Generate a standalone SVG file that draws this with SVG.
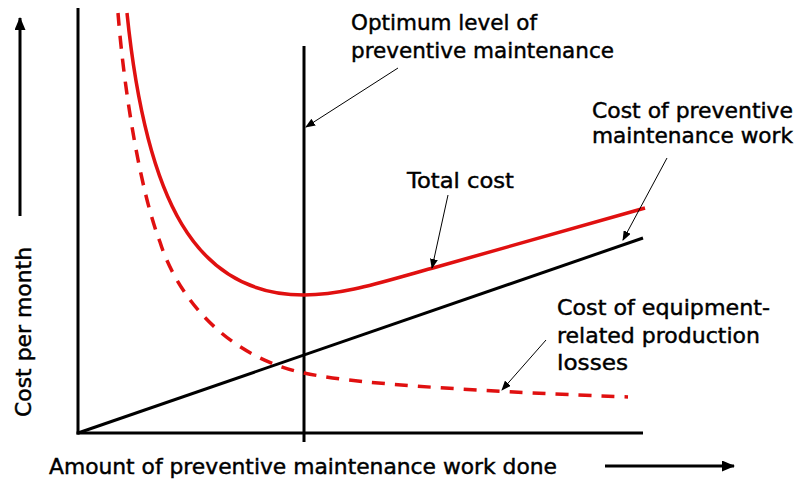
<svg xmlns="http://www.w3.org/2000/svg" width="798" height="480" viewBox="0 0 798 480">
<style>
text{font-family:"DejaVu Sans",Verdana,sans-serif;font-size:22px;fill:#000;stroke:#000;stroke-width:0.45}
.axis{stroke:#000;stroke-width:3;fill:none}
.red{stroke:#e01010;stroke-width:3.5;fill:none}
.dash{stroke-dasharray:13 10}
.lead{stroke:#000;stroke-width:1;fill:none;marker-end:url(#sa)}
</style>
<defs>
<marker id="sa" markerUnits="userSpaceOnUse" markerWidth="10" markerHeight="8" refX="9" refY="4" orient="auto">
<path d="M0,0 L10,4 L0,8 Z" fill="#000"/>
</marker>
<marker id="ba" markerUnits="userSpaceOnUse" markerWidth="13" markerHeight="11" refX="12" refY="5.5" orient="auto">
<path d="M0,0 L13,5.5 L0,11 Z" fill="#000"/>
</marker>
</defs>
<g id="axes">
<line class="axis" x1="78" y1="8" x2="78" y2="434.5"/>
<line class="axis" x1="76.5" y1="433" x2="643" y2="433"/>
<line class="axis" x1="20" y1="216" x2="20" y2="18" marker-end="url(#ba)"/>
<line class="axis" x1="605" y1="466" x2="734" y2="466" marker-end="url(#ba)"/>
</g>
<g id="optimum-line">
<line class="axis" x1="304" y1="46" x2="304" y2="442"/>
</g>
<g id="pm-cost-line">
<line class="axis" x1="78" y1="433" x2="643" y2="238"/>
</g>
<g id="total-cost-curve">
<path class="red" d="M127,13 C146,200 195,295 304,295 C345,295 385,281 433,268 L645,208"/>
</g>
<g id="losses-curve">
<path class="red dash" d="M118,13 C124,90 140,190 160,242 C175,290 220,355 304,373 C350,383 450,390 628,397"/>
</g>
<g id="connectors">
<line class="lead" x1="398" y1="68" x2="306" y2="127"/>
<line class="lead" x1="448" y1="195" x2="432" y2="268"/>
<line class="lead" x1="667" y1="158" x2="623" y2="240"/>
<line class="lead" x1="546" y1="340" x2="502" y2="390"/>
</g>
<g id="label-optimum">
<text x="351" y="30" textLength="186" lengthAdjust="spacingAndGlyphs">Optimum level of</text>
<text x="351" y="58" textLength="263" lengthAdjust="spacingAndGlyphs">preventive maintenance</text>
</g>
<g id="label-pm-cost">
<text x="592" y="118" textLength="201" lengthAdjust="spacingAndGlyphs">Cost of preventive</text>
<text x="592" y="143" textLength="201" lengthAdjust="spacingAndGlyphs">maintenance work</text>
</g>
<g id="label-total">
<text x="407" y="188" textLength="107" lengthAdjust="spacingAndGlyphs">Total cost</text>
</g>
<g id="label-losses">
<text x="557" y="315" textLength="213" lengthAdjust="spacingAndGlyphs">Cost of equipment-</text>
<text x="557" y="343" textLength="203" lengthAdjust="spacingAndGlyphs">related production</text>
<text x="557" y="370" textLength="71" lengthAdjust="spacingAndGlyphs">losses</text>
</g>
<g id="label-x-axis">
<text x="49" y="474" textLength="508" lengthAdjust="spacingAndGlyphs">Amount of preventive maintenance work done</text>
</g>
<g id="label-y-axis">
<text transform="translate(31,417) rotate(-90)" textLength="170" lengthAdjust="spacingAndGlyphs">Cost per month</text>
</g>
</svg>
